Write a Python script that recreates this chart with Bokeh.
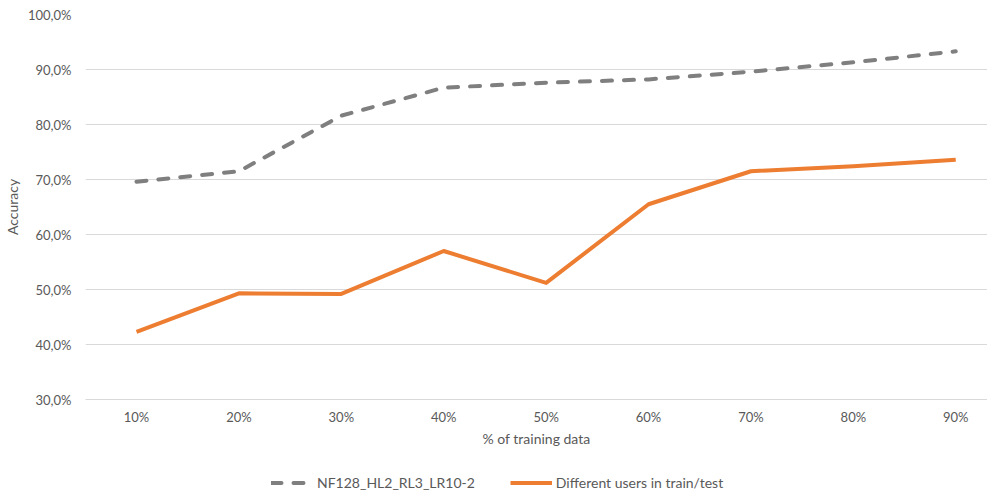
from bokeh.plotting import figure
from bokeh.models import Range1d, FixedTicker, Legend, LegendItem
from bokeh.layouts import column
from bokeh.embed import file_html
from bokeh.resources import INLINE

# Data
categories = ["10%", "20%", "30%", "40%", "50%", "60%", "70%", "80%", "90%"]
series_nf128 = [69.6, 71.5, 81.6, 86.7, 87.6, 88.2, 89.6, 91.3, 93.3]
series_users = [42.3, 49.3, 49.2, 57.0, 51.2, 65.5, 71.5, 72.4, 73.6]
y_ticks = [30, 40, 50, 60, 70, 80, 90, 100]
y_tick_labels = ["30,0%", "40,0%", "50,0%", "60,0%", "70,0%", "80,0%", "90,0%", "100,0%"]
name_nf128 = "NF128_HL2_RL3_LR10-2"
name_users = "Different users in train/test"

xs = list(range(1, len(categories) + 1))
FONT = "Lato"
TXT = "#595959"
GRAY = "#7f7f7f"
ORANGE = "#ed7d31"

chart = figure(frame_width=902, frame_height=385, output_backend="svg", toolbar_location=None,
               x_range=Range1d(0.502, 9.31), y_range=Range1d(30, 100),
               min_border_top=14, min_border_left=78, min_border_right=0, min_border_bottom=56)
chart.outline_line_color = None
chart.background_fill_color = "white"
chart.border_fill_color = "white"

chart.xgrid.visible = False
chart.ygrid.grid_line_color = "#d9d9d9"
chart.ygrid.grid_line_width = 1

chart.yaxis.ticker = FixedTicker(ticks=y_ticks)
chart.yaxis.major_label_overrides = {t: l for t, l in zip(y_ticks, y_tick_labels)}
chart.yaxis.axis_line_color = None
chart.yaxis.major_tick_line_color = None
chart.yaxis.minor_tick_line_color = None
chart.yaxis.major_tick_out = 0
chart.yaxis.major_tick_in = 0
chart.yaxis.major_label_standoff = 14
chart.yaxis.major_label_text_font = FONT
chart.yaxis.major_label_text_font_size = "13px"
chart.yaxis.major_label_text_color = TXT
chart.yaxis.axis_label = "Accuracy"
chart.yaxis.axis_label_text_font = FONT
chart.yaxis.axis_label_text_font_size = "14px"
chart.yaxis.axis_label_text_font_style = "normal"
chart.yaxis.axis_label_text_color = TXT
chart.yaxis.axis_label_standoff = 4

chart.xaxis.ticker = FixedTicker(ticks=xs)
chart.xaxis.major_label_overrides = {x: c for x, c in zip(xs, categories)}
chart.xaxis.axis_line_color = "#d9d9d9"
chart.xaxis.major_tick_line_color = None
chart.xaxis.minor_tick_line_color = None
chart.xaxis.major_tick_out = 0
chart.xaxis.major_tick_in = 0
chart.xaxis.major_label_standoff = 9
chart.xaxis.major_label_text_font = FONT
chart.xaxis.major_label_text_font_size = "13px"
chart.xaxis.major_label_text_color = TXT
chart.xaxis.axis_label = "% of training data"
chart.xaxis.axis_label_text_font = FONT
chart.xaxis.axis_label_text_font_size = "14px"
chart.xaxis.axis_label_text_font_style = "normal"
chart.xaxis.axis_label_text_color = TXT
chart.xaxis.axis_label_standoff = 2

chart.line(xs, series_nf128, line_color=GRAY, line_width=4, line_dash="10 12",
           line_cap="round", line_join="round")
chart.line(xs, series_users, line_color=ORANGE, line_width=4, line_join="round")

# Legend strip below the chart (its own small figure; the series lines lie outside its view)
leg_fig = figure(width=980, height=36, output_backend="svg", toolbar_location=None,
                 x_range=Range1d(100, 101), y_range=Range1d(0, 1),
                 x_axis_type=None, y_axis_type=None,
                 min_border_top=0, min_border_left=0, min_border_right=0, min_border_bottom=0)
leg_fig.outline_line_color = None
leg_fig.xgrid.visible = False
leg_fig.ygrid.visible = False
lr1 = leg_fig.line(xs, series_nf128, line_color=GRAY, line_width=4, line_dash="10 12",
                   line_cap="round", line_join="round")
lr2 = leg_fig.line(xs, series_users, line_color=ORANGE, line_width=4, line_join="round")

legend = Legend(items=[LegendItem(label=name_nf128, renderers=[lr1]),
                       LegendItem(label=name_users, renderers=[lr2])],
                orientation="horizontal", location=(186, 0),
                glyph_width=42, glyph_height=17, label_height=17,
                label_standoff=4, spacing=35, padding=0, margin=0,
                border_line_color=None, background_fill_alpha=0,
                label_text_font=FONT, label_text_font_size="14px", label_text_color=TXT)
leg_fig.add_layout(legend, "center")

p = column(chart, leg_fig, spacing=0)

open("out.html", "w").write(file_html(p, INLINE))
